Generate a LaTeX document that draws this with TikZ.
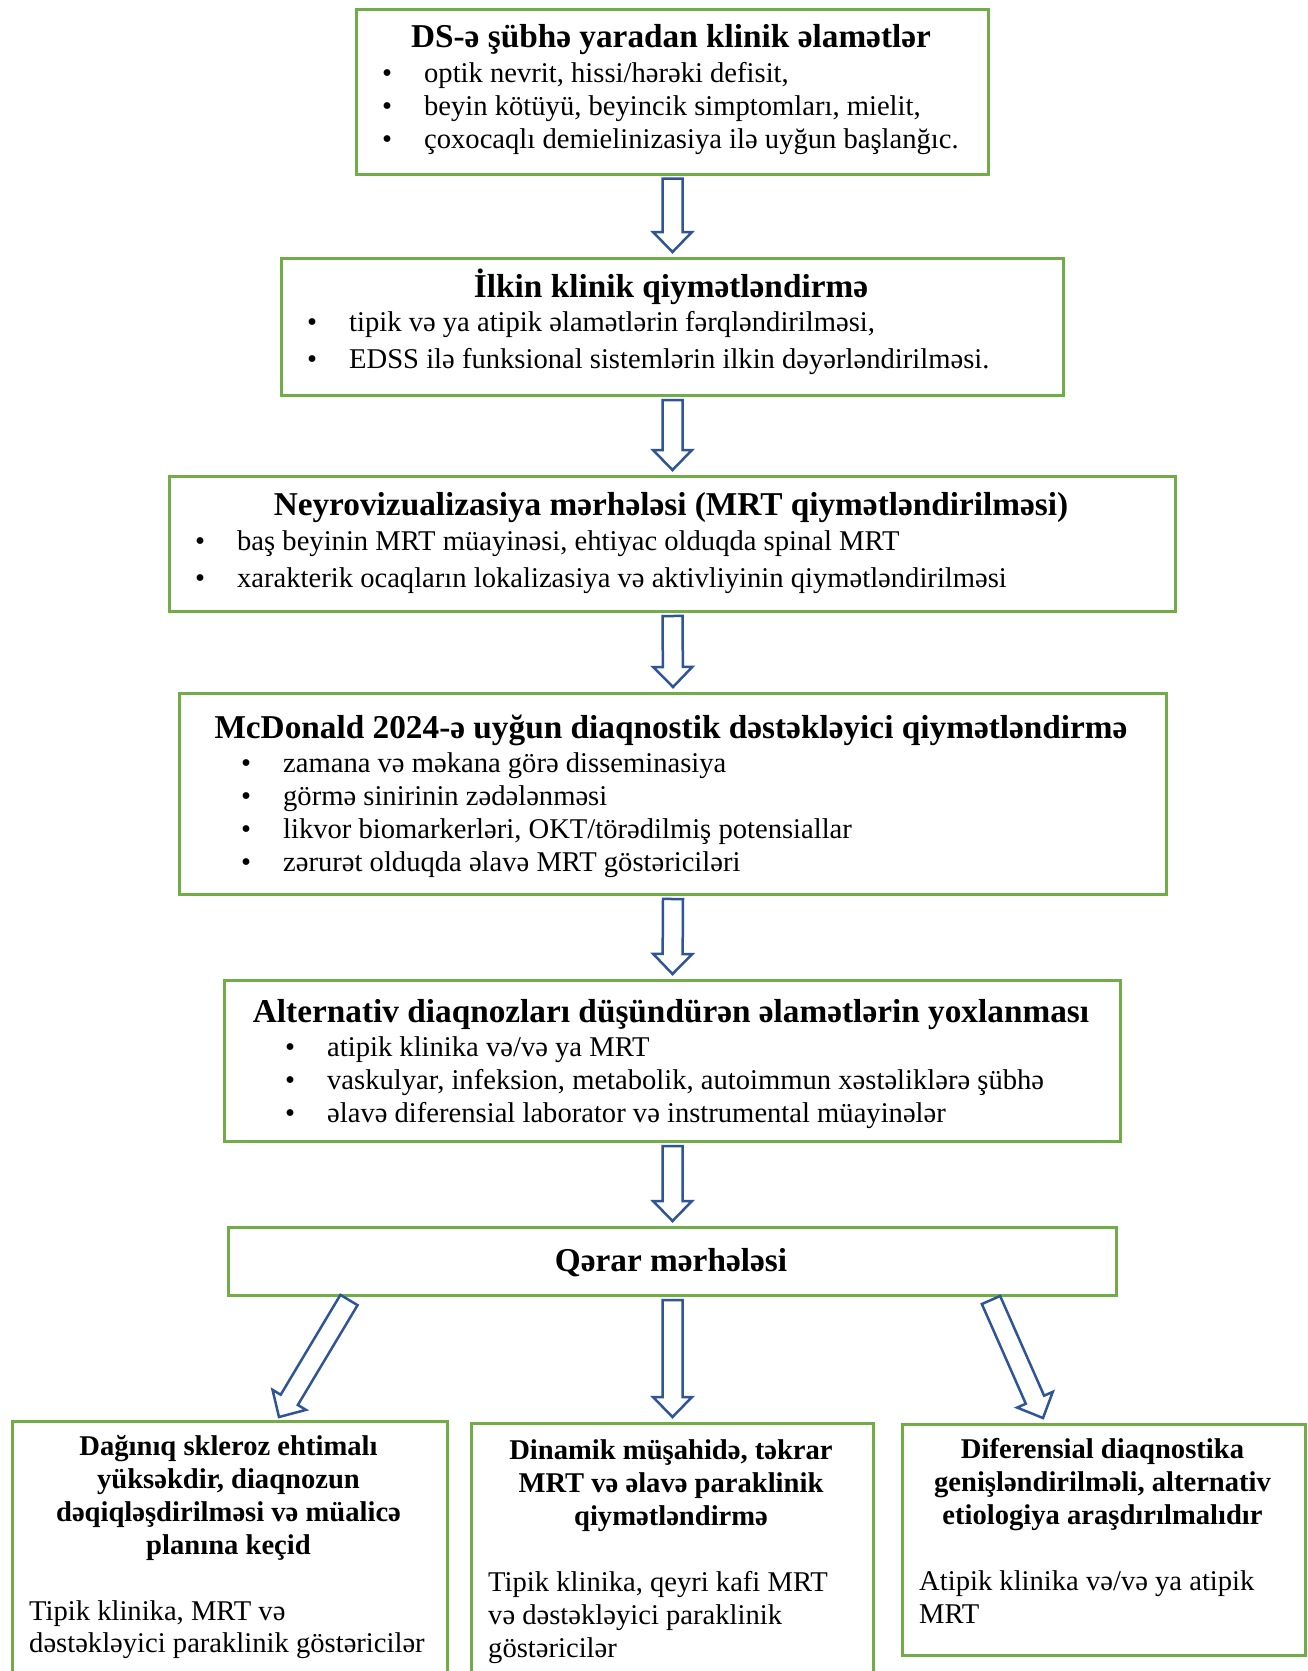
\documentclass[tikz,border=0pt]{standalone}
\usepackage{fontspec}
\setmainfont{Liberation Serif}
\usetikzlibrary{calc}
\definecolor{boxgreen}{HTML}{70AD47}
\definecolor{arrblue}{HTML}{2F5597}
\tikzset{
  box/.style={draw=boxgreen, line width=3pt, anchor=north west, inner sep=0pt},
  ttl/.style={font=\fontsize{33.3}{38}\selectfont\bfseries, anchor=mid, inner sep=0pt, yshift=-7pt},
  bttl/.style={font=\fontsize{28.6}{33}\selectfont\bfseries, anchor=mid, inner sep=0pt, yshift=-5pt},
  bul/.style={font=\fontsize{28.6}{33}\selectfont, anchor=mid west, inner sep=0pt, yshift=-6pt},
  body/.style={font=\fontsize{28.6}{33}\selectfont, anchor=mid west, inner sep=0pt, yshift=-5pt},
  blk/.style={draw=arrblue, line width=2.5pt, fill=white, line join=miter},
}
\newcommand\bu{\makebox[42pt][l]{•}}
\newcommand\blockarrow[2]{%
  \coordinate (hb) at ($(#2)!20pt!(#1)$);
  \draw[blk] ($(#1)!10pt!90:(#2)$) -- ($(hb)!10pt!90:(#2)$) -- ($(hb)!19.5pt!90:(#2)$) -- (#2)
    -- ($(hb)!19.5pt!-90:(#2)$) -- ($(hb)!10pt!-90:(#2)$) -- ($(#1)!10pt!-90:(#2)$) -- cycle;
}
\begin{document}
\begin{tikzpicture}[x=1pt,y=-1pt]
\clip (0,0) rectangle (1307,1671);
\fill[white] (0,0) rectangle (1307,1671);

% boxes
\node[box, minimum width=632pt, minimum height=165pt] (b1) at (355,7.5) {};
\node[box, minimum width=782pt, minimum height=137pt] (b2) at (280,257) {};
\node[box, minimum width=1006pt, minimum height=135pt] (b3) at (168,475) {};
\node[box, minimum width=987pt, minimum height=201pt] (b4) at (178,692) {};
\node[box, minimum width=896pt, minimum height=161pt] (b5) at (223,979) {};
\node[box, minimum width=888pt, minimum height=68pt] (b6) at (227,1226) {};
\node[box, minimum width=435pt, minimum height=280pt] (b7) at (11,1420) {};
\node[box, minimum width=402pt, minimum height=280pt] (b8) at (470,1422) {};
\node[box, minimum width=403pt, minimum height=231pt] (b9) at (901,1423) {};

% box 1
\node[ttl] (t1) at (671,38) {DS-ə şübhə yaradan klinik əlamətlər};
\node[bul] (l11) at (382,74) {\bu optik nevrit, hissi/hərəki defisit,};
\node[bul] (l12) at (382,107) {\bu beyin kötüyü, beyincik simptomları, mielit,};
\node[bul] (l13) at (382,140) {\bu çoxocaqlı demielinizasiya ilə uyğun başlanğıc.};

% box 2
\node[ttl] (t2) at (671,288) {İlkin klinik qiymətləndirmə};
\node[bul] (l21) at (307,323) {\bu tipik və ya atipik əlamətlərin fərqləndirilməsi,};
\node[bul] (l22) at (307,360) {\bu EDSS ilə funksional sistemlərin ilkin dəyərləndirilməsi.};

% box 3
\node[ttl] (t3) at (671,506) {Neyrovizualizasiya mərhələsi (MRT qiymətləndirilməsi)};
\node[bul] (l31) at (195,542) {\bu baş beyinin MRT müayinəsi, ehtiyac olduqda spinal MRT};
\node[bul] (l32) at (195,579) {\bu xarakterik ocaqların lokalizasiya və aktivliyinin qiymətləndirilməsi};

% box 4
\node[ttl] (t4) at (671,729) {McDonald 2024-ə uyğun diaqnostik dəstəkləyici qiymətləndirmə};
\node[bul] (l41) at (241,764) {\bu zamana və məkana görə disseminasiya};
\node[bul] (l42) at (241,797) {\bu görmə sinirinin zədələnməsi};
\node[bul] (l43) at (241,830) {\bu likvor biomarkerləri, OKT/törədilmiş potensiallar};
\node[bul] (l44) at (241,863) {\bu zərurət olduqda əlavə MRT göstəriciləri};

% box 5
\node[ttl] (t5) at (671,1013) {Alternativ diaqnozları düşündürən əlamətlərin yoxlanması};
\node[bul] (l51) at (285,1048) {\bu atipik klinika və/və ya MRT};
\node[bul] (l52) at (285,1081) {\bu vaskulyar, infeksion, metabolik, autoimmun xəstəliklərə şübhə};
\node[bul] (l53) at (285,1114) {\bu əlavə diferensial laborator və instrumental müayinələr};

% box 6
\node[ttl] (t6) at (671,1262) {Qərar mərhələsi};

% bottom left
\node[bttl] (t71) at (228.5,1448) {Dağınıq skleroz ehtimalı};
\node[bttl] (t72) at (228.5,1481) {yüksəkdir, diaqnozun};
\node[bttl] (t73) at (228.5,1514) {dəqiqləşdirilməsi və müalicə};
\node[bttl] (t74) at (228.5,1547) {planına keçid};
\node[body] (c71) at (29,1613) {Tipik klinika, MRT və};
\node[body] (c72) at (29,1645) {dəstəkləyici paraklinik göstəricilər};

% bottom middle
\node[bttl] (t81) at (671,1452) {Dinamik müşahidə, təkrar};
\node[bttl] (t82) at (671,1485) {MRT və əlavə paraklinik};
\node[bttl] (t83) at (671,1518) {qiymətləndirmə};
\node[body] (c81) at (488,1584) {Tipik klinika, qeyri kafi MRT};
\node[body] (c82) at (488,1617) {və dəstəkləyici paraklinik};
\node[body] (c83) at (488,1650) {göstəricilər};

% bottom right
\node[bttl] (t91) at (1102.5,1451) {Diferensial diaqnostika};
\node[bttl] (t92) at (1102.5,1484) {genişləndirilməli, alternativ};
\node[bttl] (t93) at (1102.5,1517) {etiologiya araşdırılmalıdır};
\node[body] (c91) at (919,1583) {Atipik klinika və/və ya atipik};
\node[body] (c92) at (919,1616) {MRT};

% arrows
\coordinate (a1s) at ($(b1.south)+(0,3)$);
\coordinate (a1e) at ($(b2.north)+(0,-5)$);
\coordinate (a2s) at ($(b2.south)+(0,3)$);
\coordinate (a2e) at ($(b3.north)+(0,-5)$);
\coordinate (a3s) at ($(b3.south)+(0,3)$);
\coordinate (a3e) at ($(b4.north)+(0,-5)$);
\coordinate (a4s) at ($(b4.south)+(0,3)$);
\coordinate (a4e) at ($(b5.north)+(0,-5)$);
\coordinate (a5s) at ($(b5.south)+(0,3)$);
\coordinate (a5e) at ($(b6.north)+(0,-5)$);
\coordinate (a6s) at ($(b6.south west)+(122,3)$);
\coordinate (a6e) at ($(b7.north west)+(268,-3)$);
\coordinate (a7s) at ($(b6.south)+(0,3)$);
\coordinate (a7e) at ($(b8.north)+(0,-5)$);
\coordinate (a8s) at ($(b6.south west)+(764,3)$);
\coordinate (a8e) at ($(b9.north west)+(142,-5)$);
\blockarrow{a1s}{a1e}
\blockarrow{a2s}{a2e}
\blockarrow{a3s}{a3e}
\blockarrow{a4s}{a4e}
\blockarrow{a5s}{a5e}
\blockarrow{a6s}{a6e}
\blockarrow{a7s}{a7e}
\blockarrow{a8s}{a8e}
\end{tikzpicture}
\end{document}
